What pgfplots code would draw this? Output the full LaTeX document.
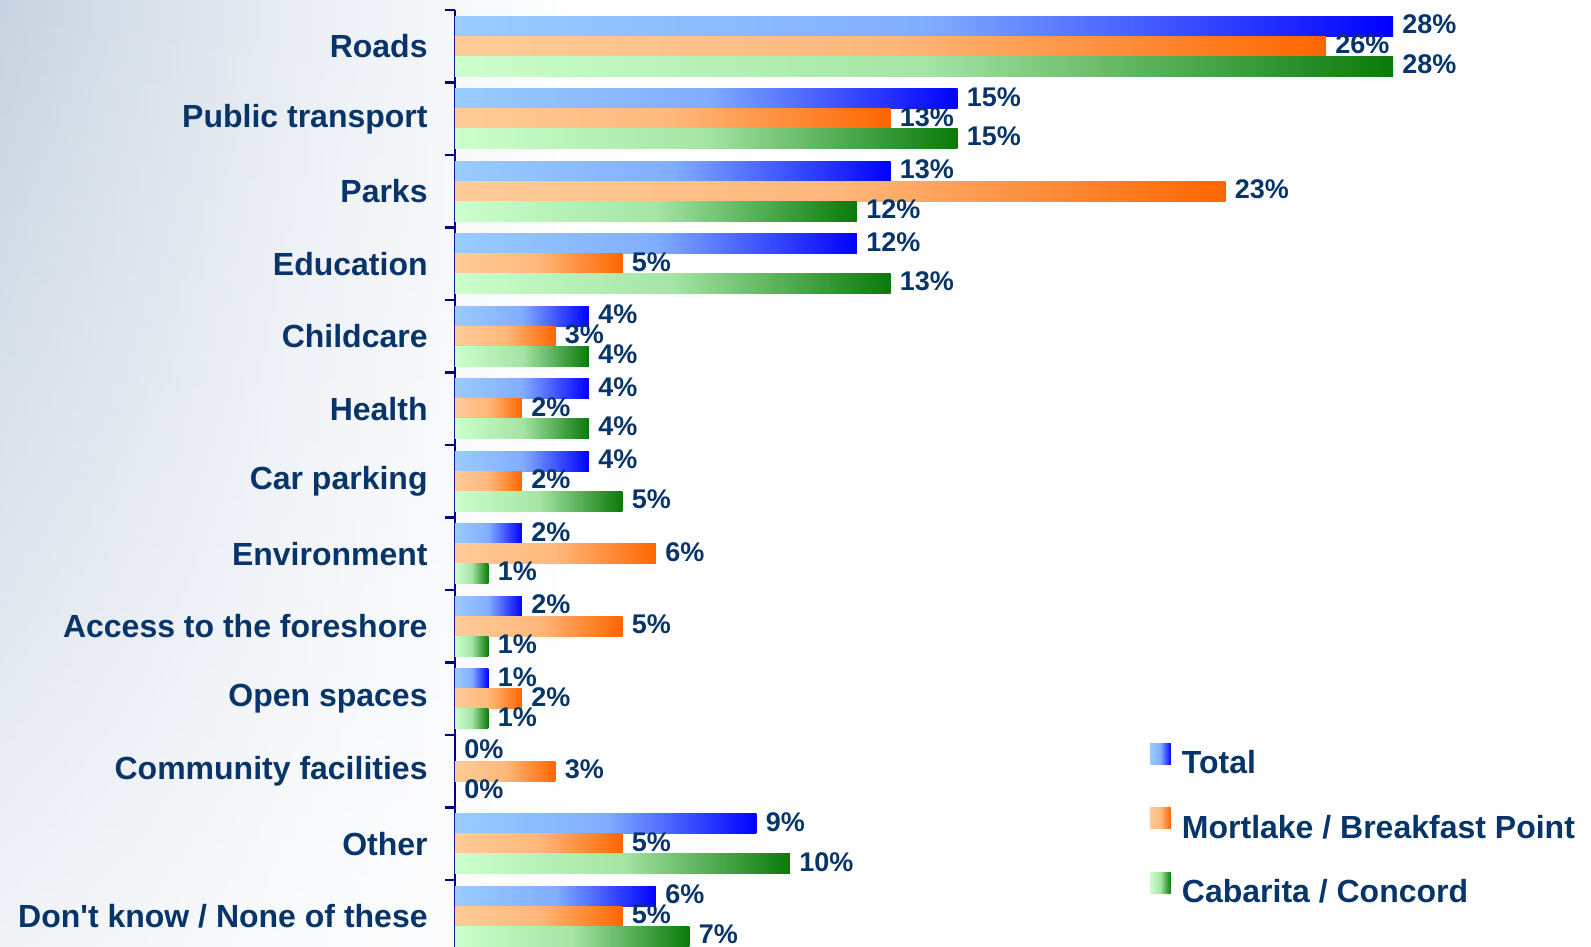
\documentclass[border=0pt]{standalone}
\usepackage{pgfplots}
\pgfplotsset{compat=1.18}
\usepackage{pgfplotstable}
\usetikzlibrary{fadings}
\usepackage{fontspec}
\setmainfont{Liberation Sans}
\definecolor{txt}{RGB}{8,53,105}
\definecolor{axc}{RGB}{0,0,128}
\definecolor{bL}{HTML}{99CCFF}
\definecolor{bD}{HTML}{0000FF}
\definecolor{oL}{HTML}{FFCC99}
\definecolor{oD}{HTML}{FF6600}
\definecolor{gL}{HTML}{CCFFCC}
\definecolor{gD}{HTML}{0A7A0A}
\definecolor{bgc}{RGB}{200,211,225}

\pgfplotstableread{
idx total mort cab
0 28 26 28
1 15 13 15
2 13 23 12
3 12 5 13
4 4 3 4
5 4 2 4
6 4 2 5
7 2 6 1
8 2 5 1
9 1 2 1
10 0 3 0
11 9 5 10
12 6 5 7
}\datatable

\begin{document}
\begin{tikzpicture}
\shade[left color=bgc, right color=white, middle color=bgc!40!white] (0pt,0pt) rectangle (290pt,-473.5pt);
\fill[white, fill opacity=0.75, path fading=north] (0pt,0pt) rectangle (290pt,-473.5pt);
\begin{axis}[
  at={(227.5pt,-5pt)}, anchor=north west,
  scale only axis, width=502.5pt, height=468.5pt,
  xmin=0, xmax=30, ymin=-0.5, ymax=12.424,
  y dir=reverse,
  axis x line=none, axis y line*=left,
  y axis line style={color=axc, line width=1.2pt},
  xbar, bar width=0.275,
  ytick={0,...,12},
  yticklabels={Roads, Public transport, Parks, Education, Childcare, Health, Car parking, Environment, Access to the foreshore, Open spaces, Community facilities, Other, Don\textquotesingle t know / None of these},
  major tick length=0pt,
  minor ytick={-0.5,0.5,...,11.5},
  minor tick length=5pt, tick align=outside,
  minor tick style={color=axc, line width=1.2pt},
  yticklabel style={font=\fontsize{16}{19}\selectfont\bfseries, text=txt, anchor=east, inner sep=0pt, xshift=-13.5pt},
  /pgf/number format/assume math mode=true,
  point meta=x,
  nodes near coords={\pgfmathprintnumber{\pgfplotspointmeta}\%},
  nodes near coords align=horizontal,
  every node near coord/.append style={font=\fontsize{13.5}{16}\selectfont\bfseries, text=txt, inner sep=0pt, anchor=west, xshift=4.5pt, yshift=1pt},
  clip=false,
  legend cell align=left,
  legend style={at={(axis description cs:0.6915,0.2177)}, anchor=north west, draw=none, fill=none, inner sep=0pt, outer sep=0pt, row sep=13pt, column sep=5.5pt, font=\fontsize{16}{19}\selectfont\bfseries, text=txt, nodes={inner sep=0pt, text height=12pt, text depth=4pt}},
  legend image code/.code={\fill[#1, draw=none] (0pt,0.75pt) rectangle (10.5pt,11.25pt);},
]
\pgfplotsinvokeforeach{0,...,12}{
  \addplot[forget plot, bar shift=-0.275, draw=none, left color=bL, right color=bD, middle color=bD!15!bL, restrict y to domain=#1:#1] table[x=total, y=idx] {\datatable};
  \addplot[forget plot, bar shift=0, draw=none, left color=oL, right color=oD, middle color=oD!20!oL, restrict y to domain=#1:#1] table[x=mort, y=idx] {\datatable};
  \addplot[forget plot, bar shift=0.275, draw=none, left color=gL, right color=gD, middle color=gD!20!gL, restrict y to domain=#1:#1] table[x=cab, y=idx] {\datatable};
}
\addlegendimage{draw=none, left color=bL, right color=bD, middle color=bD!15!bL}
\addlegendentry{Total}
\addlegendimage{draw=none, left color=oL, right color=oD, middle color=oD!20!oL}
\addlegendentry{Mortlake / Breakfast Point}
\addlegendimage{draw=none, left color=gL, right color=gD, middle color=gD!20!gL}
\addlegendentry{Cabarita / Concord}
\end{axis}
\pgfresetboundingbox
\path[use as bounding box] (0pt,0pt) rectangle (795.5pt,-473.5pt);
\end{tikzpicture}
\end{document}
